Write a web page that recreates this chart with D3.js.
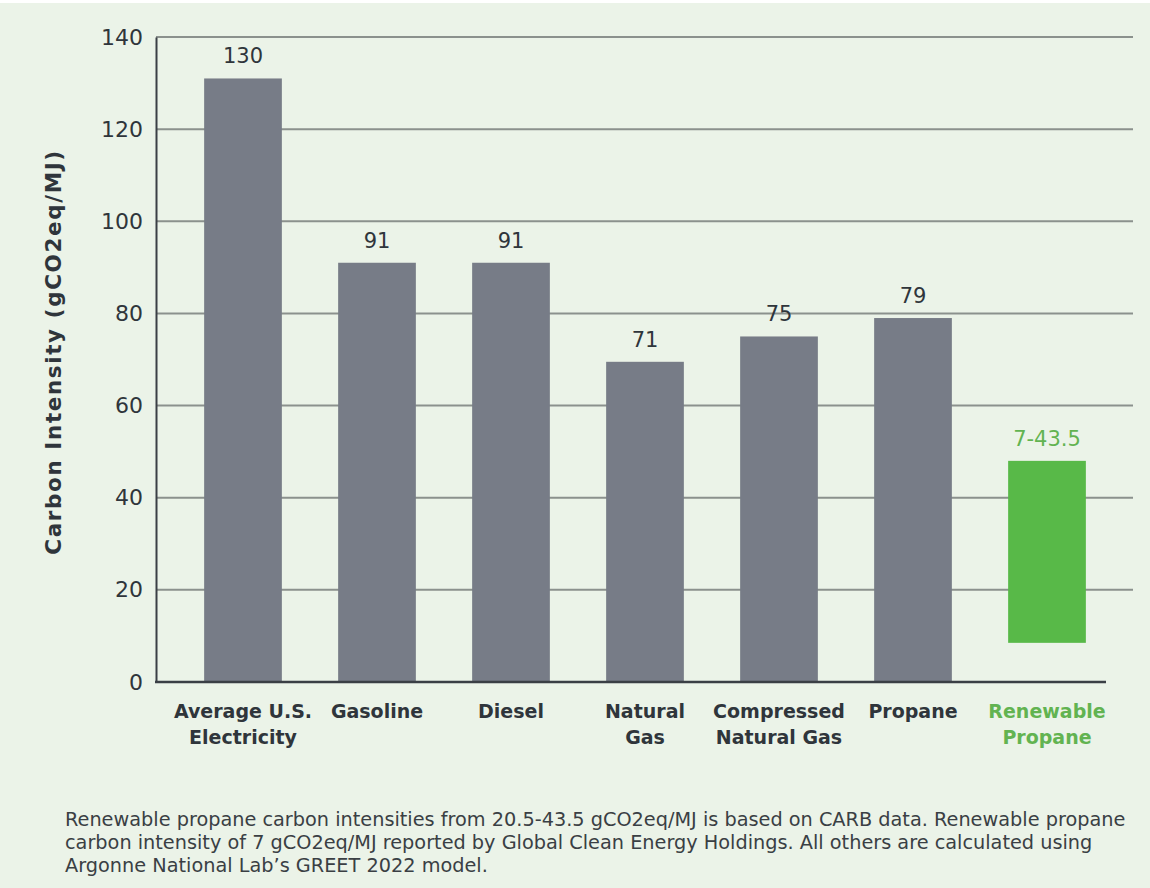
<!DOCTYPE html>
<html>
<head>
<meta charset="utf-8">
<script src="https://cdn.jsdelivr.net/npm/d3@7"></script>
<style>
  html, body { margin: 0; padding: 0; background: #ebf3e8; }
  svg { display: block; }
</style>
</head>
<body>
<svg id="chart" width="1150" height="888"></svg>
<script>
// ---- data ----
const categories = [
  ["Average U.S.", "Electricity"],
  ["Gasoline"],
  ["Diesel"],
  ["Natural", "Gas"],
  ["Compressed", "Natural Gas"],
  ["Propane"],
  ["Renewable", "Propane"]
];
const barLow  = [0, 0, 0, 0, 0, 0, 8.5];
const barHigh = [131, 91, 91, 69.5, 75, 79, 48];
const valueLabels = ["130", "91", "91", "71", "75", "79", "7-43.5"];
const highlight = [false, false, false, false, false, false, true];
const yTicks = [0, 20, 40, 60, 80, 100, 120, 140];
const yTitle = "Carbon Intensity (gCO2eq/MJ)";
const footnote = [
  "Renewable propane carbon intensities from 20.5-43.5 gCO2eq/MJ is based on CARB data. Renewable propane",
  "carbon intensity of 7 gCO2eq/MJ reported by Global Clean Energy Holdings. All others are calculated using",
  "Argonne National Lab\u2019s GREET 2022 model."
];

// ---- layout ----
const W = 1150, H = 888;
const svg = d3.select("#chart");
const bg = "#ebf3e8";
svg.append("rect").attr("width", W).attr("height", H).attr("fill", bg);
svg.append("rect").attr("width", W).attr("height", 3).attr("fill", "#ffffff");

const axisX = 156, gridEnd = 1133, baseEnd = 1106;
const y = d3.scaleLinear().domain([0, 140]).range([682, 37]);
const x = d3.scaleBand().domain(d3.range(categories.length))
  .range([176, 1114]).paddingInner(0.42).paddingOuter(0.21);

const gray = "#777c87", green = "#58b948", greenText = "#62b351", dark = "#2f353b";

// gridlines
svg.append("g").selectAll("line").data(yTicks.filter(t => t > 0)).join("line")
  .attr("x1", axisX).attr("x2", gridEnd)
  .attr("y1", d => y(d)).attr("y2", d => y(d))
  .attr("stroke", "#8b918d").attr("stroke-width", 2);

// bars
svg.append("g").selectAll("rect").data(categories).join("rect")
  .attr("x", (d, i) => x(i))
  .attr("width", x.bandwidth())
  .attr("y", (d, i) => y(barHigh[i]))
  .attr("height", (d, i) => y(barLow[i]) - y(barHigh[i]))
  .attr("fill", (d, i) => highlight[i] ? green : gray);

// value labels
svg.append("g").selectAll("text").data(valueLabels).join("text")
  .attr("x", (d, i) => x(i) + x.bandwidth() / 2)
  .attr("y", (d, i) => y(barHigh[i]) - 15)
  .attr("text-anchor", "middle")
  .attr("font-family", "DejaVu Sans")
  .attr("font-size", 21)
  .attr("fill", (d, i) => highlight[i] ? greenText : dark)
  .text(d => d);

// y axis
const yAxis = d3.axisLeft(y).tickValues(yTicks).tickSize(0).tickPadding(13);
const gy = svg.append("g").attr("transform", `translate(${axisX},0)`).call(yAxis);
gy.select(".domain").attr("stroke", "#3a3f45").attr("stroke-width", 2);
gy.selectAll("text").attr("font-family", "DejaVu Sans").attr("font-size", 22)
  .attr("fill", dark);

// baseline
svg.append("line").attr("x1", axisX - 1).attr("x2", baseEnd)
  .attr("y1", y(0)).attr("y2", y(0))
  .attr("stroke", "#3a3f45").attr("stroke-width", 2.5);

// category labels
const cat = svg.append("g").selectAll("text").data(categories).join("text")
  .attr("text-anchor", "middle")
  .attr("font-family", "DejaVu Sans")
  .attr("font-weight", "bold")
  .attr("font-size", 19)
  .attr("fill", (d, i) => highlight[i] ? greenText : dark);
cat.each(function(d, i) {
  const t = d3.select(this);
  d.forEach((line, j) => {
    t.append("tspan").attr("x", x(i) + x.bandwidth() / 2)
      .attr("y", 718 + j * 26).text(line);
  });
});

// y title
svg.append("text")
  .attr("transform", `translate(61,352) rotate(-90)`)
  .attr("text-anchor", "middle")
  .attr("font-family", "DejaVu Sans")
  .attr("font-weight", "bold")
  .attr("font-size", 21.5)
  .attr("letter-spacing", 1.6)
  .attr("fill", dark)
  .text(yTitle);

// footnote
svg.append("g").selectAll("text").data(footnote).join("text")
  .attr("x", 65)
  .attr("y", (d, i) => 826 + i * 23)
  .attr("font-family", "DejaVu Sans")
  .attr("font-size", 19.3)
  .attr("fill", "#3a3f44")
  .text(d => d);
</script>
</body>
</html>
